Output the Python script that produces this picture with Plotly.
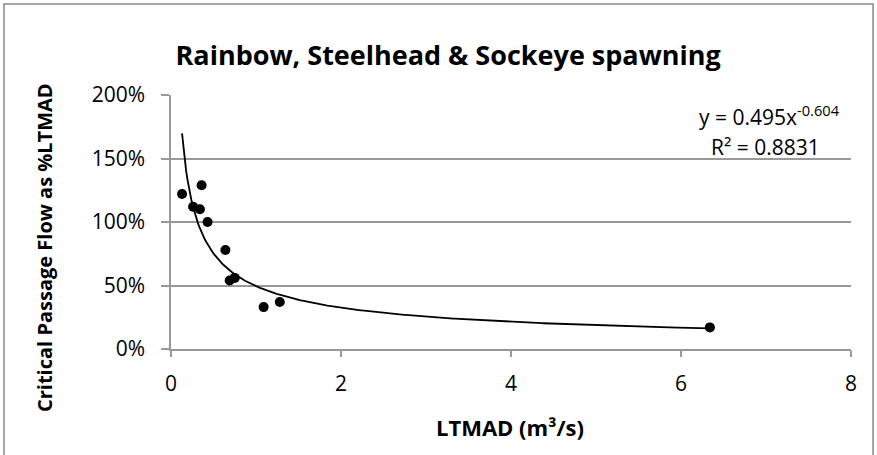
import numpy as np
import plotly.graph_objects as go

# Data
ltmad = [0.13, 0.26, 0.34, 0.36, 0.43, 0.64, 0.69, 0.75, 1.09, 1.28, 6.34]
pct_ltmad = [1.22, 1.12, 1.10, 1.29, 1.00, 0.78, 0.54, 0.56, 0.33, 0.37, 0.17]

# Power trendline coefficients (as displayed)
coef_a = 0.495
coef_b = -0.604
r2 = 0.8831

x_ticks = [0, 2, 4, 6, 8]
y_ticks = [0, 0.5, 1.0, 1.5, 2.0]
y_tick_labels = ["0%", "50%", "100%", "150%", "200%"]

xt = np.linspace(min(ltmad), max(ltmad), 400)
yt = coef_a * xt ** coef_b

font_fam = "Open Sans"

fig = go.Figure()
fig.add_trace(go.Scatter(x=xt, y=yt, mode="lines",
                         line=dict(color="black", width=1.8),
                         hoverinfo="skip", showlegend=False))
fig.add_trace(go.Scatter(x=ltmad, y=pct_ltmad, mode="markers",
                         marker=dict(color="black", size=10),
                         showlegend=False))

# Trendline equation
fig.add_annotation(xref="paper", yref="paper", x=0.8804, y=0.918,
                   text=f"y = {coef_a}x<sup>{coef_b}</sup>",
                   showarrow=False, font=dict(family=font_fam, size=21, color="black"),
                   xanchor="center", yanchor="middle")
fig.add_annotation(xref="paper", yref="paper", x=0.8743, y=0.795,
                   text=f"R² = {r2}",
                   showarrow=False, font=dict(family=font_fam, size=21, color="black"),
                   xanchor="center", yanchor="middle")

# Axis titles
fig.add_annotation(xref="paper", yref="paper", x=0.4985, y=-0.307,
                   text="<b>LTMAD (m³/s)</b>", showarrow=False,
                   font=dict(family=font_fam, size=22, color="black"),
                   xanchor="center", yanchor="middle")
fig.add_annotation(xref="paper", yref="paper", x=-0.1853, y=0.4016,
                   text="<b>Critical Passage Flow as %LTMAD</b>", showarrow=False,
                   textangle=-90,
                   font=dict(family=font_fam, size=20, color="black"),
                   xanchor="center", yanchor="middle")

fig.update_layout(
    width=877, height=455,
    margin=dict(l=171, r=26, t=95, b=106),
    paper_bgcolor="white", plot_bgcolor="white",
    font=dict(family=font_fam, color="black"),
    title=dict(text="<b>Rainbow, Steelhead & Sockeye spawning</b>",
               x=0.511, xanchor="center", y=0.878, yanchor="middle",
               font=dict(family=font_fam, size=27, color="black")),
    xaxis=dict(range=[0, 8], tickvals=x_ticks, ticktext=[str(v) for v in x_ticks],
               showgrid=False, zeroline=False,
               showline=True, linecolor="#999999", linewidth=1.5,
               ticks="outside", ticklen=6, tickcolor="#999999", tickwidth=1.5,
               ticklabelstandoff=9,
               tickfont=dict(size=21, family=font_fam)),
    yaxis=dict(range=[0, 2.0], tickvals=y_ticks, ticktext=y_tick_labels,
               showgrid=True, gridcolor="#999999", gridwidth=1.5, zeroline=False,
               showline=True, linecolor="#999999", linewidth=1.5,
               ticks="outside", ticklen=8, tickcolor="#999999", tickwidth=1.5,
               ticklabelstandoff=12,
               tickfont=dict(size=21, family=font_fam)),
    shapes=[dict(type="rect", xref="paper", yref="paper", x0=-0.2456, x1=1.0324, y0=-0.437, y1=1.358,
                 line=dict(color="#888888", width=1.5))],
)

fig.write_html("out.html", config={"displayModeBar": False},
               post_script="document.body.style.margin='0';")
